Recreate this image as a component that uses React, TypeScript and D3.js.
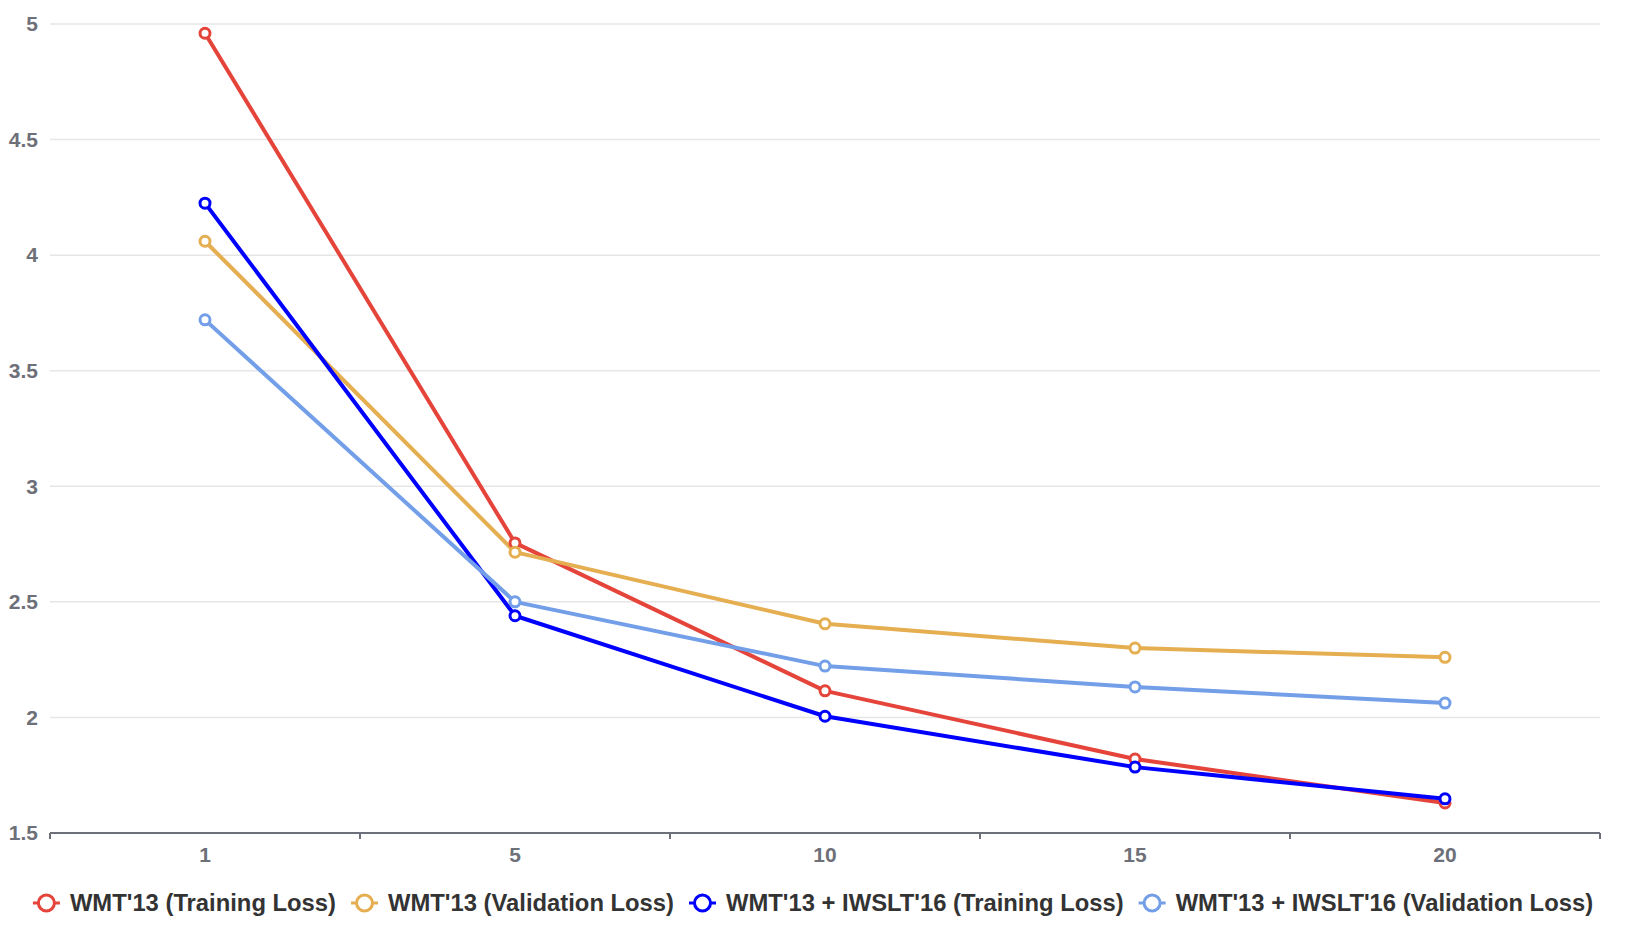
import { useEffect, useRef } from 'react'
import * as d3 from 'd3'

const epochs = ['1', '5', '10', '15', '20']
const seriesNames = [
  "WMT'13 (Training Loss)",
  "WMT'13 (Validation Loss)",
  "WMT'13 + IWSLT'16 (Training Loss)",
  "WMT'13 + IWSLT'16 (Validation Loss)",
]
const wmtTrain = [4.96, 2.755, 2.115, 1.82, 1.63]
const wmtVal = [4.06, 2.715, 2.405, 2.3, 2.26]
const mixTrain = [4.225, 2.44, 2.005, 1.785, 1.648]
const mixVal = [3.72, 2.5, 2.222, 2.132, 2.062]
const colors = ['#e5443a', '#e5ae50', '#0000ff', '#739ee8']
const yTicks = [1.5, 2, 2.5, 3, 3.5, 4, 4.5, 5]

export default function App() {
  const ref = useRef<SVGSVGElement | null>(null)

  useEffect(() => {
    if (!ref.current) return
    document.body.style.margin = '0'
    document.body.style.overflow = 'hidden'

    const width = 1626
    const height = 932
    const margin = { top: 24, right: 26, bottom: 99, left: 50 }
    const font = '"Liberation Sans", Arial, sans-serif'

    const svg = d3.select(ref.current)
    svg.selectAll('*').remove()
    svg.attr('width', width).attr('height', height).style('display', 'block')

    const x = d3.scaleBand().domain(epochs).range([margin.left, width - margin.right])
    const y = d3.scaleLinear().domain([1.5, 5]).range([height - margin.bottom, margin.top])
    const cx = (d: string) => x(d)! + x.bandwidth() / 2

    // grid
    svg.append('g')
      .selectAll('line')
      .data(yTicks.slice(1))
      .join('line')
      .attr('x1', margin.left)
      .attr('x2', width - margin.right)
      .attr('y1', d => y(d))
      .attr('y2', d => y(d))
      .attr('stroke', '#e6e6e6')
      .attr('stroke-width', 1.5)

    // y labels
    svg.append('g')
      .selectAll('text')
      .data(yTicks)
      .join('text')
      .attr('x', margin.left - 12)
      .attr('y', d => y(d))
      .attr('dy', '0.35em')
      .attr('text-anchor', 'end')
      .attr('fill', '#6e7079')
      .style('font', `bold 21px ${font}`)
      .text(d => String(d))

    // x axis
    const axisY = height - margin.bottom
    svg.append('line')
      .attr('x1', margin.left).attr('x2', width - margin.right)
      .attr('y1', axisY).attr('y2', axisY)
      .attr('stroke', '#6e7079').attr('stroke-width', 2)
    const tickPos = epochs.map(d => x(d)!).concat([width - margin.right])
    svg.append('g')
      .selectAll('line')
      .data(tickPos)
      .join('line')
      .attr('x1', d => d).attr('x2', d => d)
      .attr('y1', axisY).attr('y2', axisY + 6)
      .attr('stroke', '#6e7079').attr('stroke-width', 2)
    svg.append('g')
      .selectAll('text')
      .data(epochs)
      .join('text')
      .attr('x', d => cx(d))
      .attr('y', axisY + 22)
      .attr('dy', '0.35em')
      .attr('text-anchor', 'middle')
      .attr('fill', '#6e7079')
      .style('font', `bold 21px ${font}`)
      .text(d => d)

    const allSeries = [wmtTrain, wmtVal, mixTrain, mixVal]
    const line = d3.line<number>().x((_, i) => cx(epochs[i])).y(d => y(d))

    allSeries.forEach((vals, si) => {
      svg.append('path')
        .datum(vals)
        .attr('fill', 'none')
        .attr('stroke', colors[si])
        .attr('stroke-width', 4)
        .attr('stroke-linejoin', 'round')
        .attr('d', line)
    })
    allSeries.forEach((vals, si) => {
      svg.append('g')
        .selectAll('circle')
        .data(vals)
        .join('circle')
        .attr('cx', (_, i) => cx(epochs[i]))
        .attr('cy', d => y(d))
        .attr('r', 5)
        .attr('fill', '#fff')
        .attr('stroke', colors[si])
        .attr('stroke-width', 3)
    })

    // legend
    const legendY = 903
    const iconW = 27
    const iconGap = 10
    const itemGap = 15
    const legend = svg.append('g')
    const items = seriesNames.map((name, i) => {
      const g = legend.append('g')
      g.append('line')
        .attr('x1', 0).attr('x2', iconW)
        .attr('y1', legendY).attr('y2', legendY)
        .attr('stroke', colors[i]).attr('stroke-width', 3)
      g.append('circle')
        .attr('cx', iconW / 2).attr('cy', legendY).attr('r', 8)
        .attr('fill', '#fff').attr('stroke', colors[i]).attr('stroke-width', 3)
      const t = g.append('text')
        .attr('x', iconW + iconGap)
        .attr('y', legendY)
        .attr('dy', '0.35em')
        .attr('fill', '#333')
        .style('font', `bold 23.8px ${font}`)
        .text(name)
      const w = iconW + iconGap + (t.node() as SVGTextElement).getComputedTextLength()
      return { g, w }
    })
    const total = d3.sum(items, d => d.w) + itemGap * (items.length - 1)
    let off = (width - total) / 2
    items.forEach(it => {
      it.g.attr('transform', `translate(${off},0)`)
      off += it.w + itemGap
    })
  }, [])

  return <svg ref={ref}></svg>
}
